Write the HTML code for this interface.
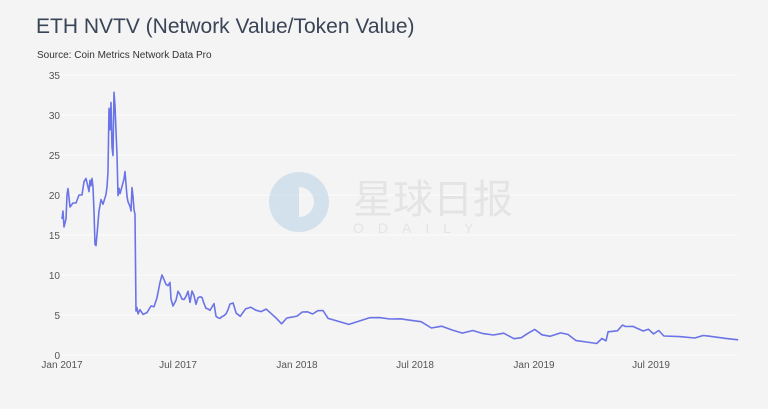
<!DOCTYPE html>
<html><head><meta charset="utf-8"><style>
html,body{margin:0;padding:0;background:#f4f4f4;}
body{width:768px;height:404px;overflow:hidden;font-family:"Liberation Sans",sans-serif;}
</style></head><body>
<svg width="768" height="404" xmlns="http://www.w3.org/2000/svg">
<rect width="768" height="404" fill="#f4f4f4"/>
<text x="36" y="33" font-size="21" fill="#3a4457" font-family="Liberation Sans, sans-serif">ETH NVTV (Network Value/Token Value)</text>
<text x="37" y="58" font-size="10" fill="#333" font-family="Liberation Sans, sans-serif">Source: Coin Metrics Network Data Pro</text>
<g stroke="#fbfbfb" stroke-width="1.2">
<line x1="55" x2="738" y1="75" y2="75"/><line x1="55" x2="738" y1="115" y2="115"/>
<line x1="55" x2="738" y1="155" y2="155"/><line x1="55" x2="738" y1="195" y2="195"/>
<line x1="55" x2="738" y1="235" y2="235"/><line x1="55" x2="738" y1="275" y2="275"/>
<line x1="55" x2="738" y1="315" y2="315"/><line x1="55" x2="738" y1="355" y2="355"/>
</g>
<g font-size="10" fill="#555" text-anchor="end" font-family="Liberation Sans, sans-serif">
<text x="60" y="79">35</text><text x="60" y="119">30</text><text x="60" y="159">25</text>
<text x="60" y="199">20</text><text x="60" y="239">15</text><text x="60" y="279">10</text>
<text x="60" y="319">5</text><text x="60" y="359">0</text>
</g>
<g font-size="10" fill="#555" text-anchor="middle" font-family="Liberation Sans, sans-serif">
<text x="62" y="368">Jan 2017</text><text x="178" y="368">Jul 2017</text>
<text x="297" y="368">Jan 2018</text><text x="415" y="368">Jul 2018</text>
<text x="534" y="368">Jan 2019</text><text x="651" y="368">Jul 2019</text>
</g>
<g opacity="0.55">
<circle cx="299" cy="202" r="30" fill="#b9d3e6"/>
<path d="M299 187 a15 15 0 0 1 0 30 z" fill="#f4f4f4"/>
<text x="353" y="213" font-size="40" fill="#d8d8d8" font-family="Noto Sans CJK SC, sans-serif">星球日报</text>
<text x="353" y="233" font-size="14" fill="#d8d8d8" letter-spacing="14" font-family="Liberation Sans, sans-serif">ODAILY</text>
</g>
<path id="ln" fill="none" stroke="#6b74e6" stroke-width="1.6" stroke-linejoin="round"/>
</svg>
<script>
var p=[62,17,63,18,64,16,66,17,67,20,68,20.8,70,18.5,73,19,76,19,79,20,82,20,84,21.5,86,22,88,21,89,20.5,90,22,91,21,92,22,93,21,94,18,95,14,96,13.5,97,15,99,18,101,19.5,103,19,105,19.5,106,20,107,21,108,23,109,31,110,28,111,31.5,112,26,113,25,114,33,115,31,116,28,117,25,118,20,119,21,120,20,122,21,124,22,125,23,127,20,128,19,130,18.5,131,18,132,21,133,20,134,18,135,17.5,136,5.5,137,6,138,5.3,140,5.5,143,5,147,5.3,151,6.2,154,6.2,157,7,160,9,162,10,164,9.5,166,9,168,8.5,170,9,171,7,173,6.2,176,7,178,7.8,180,7.5,182,7,184,7,186,7.5,188,7.8,190,6.5,192,8,194,7.5,196,6.5,198,7,200,7.2,202,7.2,204,6.5,206,6,208,5.6,210,5.5,212,6,214,6.5,216,5,218,4.5,220,4.5,222,4.8,224,5,226,5.3,228,5.5,230,6.3,233,6.5,236,5.3,240,5,245,5.6,250,5.9,255,5.6,260,5.5,265,5.9,270,5.0,275,4.5,280,3.9,285,4.7,290,4.9,295,4.7,300,5.3,305,5.4,310,5.2,315,5.7,320,5.4,325,4.5,335,4.2,345,3.9,355,4.4,365,4.5,375,4.6,385,4.5,395,4.6,405,4.5,415,4.0,425,3.3,435,3.6,445,3.2,455,2.9,465,2.9,475,2.6,485,2.5,495,2.8,505,2.2,512,2.0,518,2.6,525,3.2,532,2.6,540,2.5,550,2.6,557,2.5,565,1.8,575,1.7,585,1.6,590,1.9,594,1.7,596,2.9,605,3.1,610,3.9,613,3.4,620,3.5,630,3.0,635,3.3,640,2.8,645,2.9,650,2.3,665,2.3,680,2.2,688,2.6,693,2.2,710,2.0,722,1.9];
var d="";for(var i=0;i<p.length;i+=2){var x=p[i];if(x>=230)x=230+(x-230)*1.033;var j=(i>20&&i<p.length-2)?((i*7)%5-2)*0.08:0;d+=(i?"L":"M")+x.toFixed(1)+" "+(355-8*(p[i+1]+j)).toFixed(1);}
document.getElementById("ln").setAttribute("d",d);
</script>
</body></html>
